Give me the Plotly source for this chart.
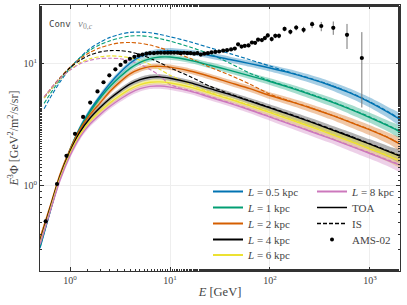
import plotly.graph_objects as go

# ---------------- data ----------------
E_toa = [0.5, 0.63, 0.79, 1.0, 1.26, 1.58, 2.0, 2.51, 3.16, 3.98, 5.01, 6.31, 7.94, 10,
         15.8, 25.1, 39.8, 63.1, 100, 158, 251, 398, 631, 1000, 1585, 2000]
toa_L05 = [0.31, 0.61, 1.16, 1.95, 2.98, 4.1, 5.4, 6.85, 8.4, 10.0, 11.35, 12.1, 12.55, 12.7,
           12.3, 11.6, 10.75, 9.95, 9.15, 8.35, 7.5, 6.62, 5.72, 4.8, 3.9, 3.48]
toa_L1 = [0.32, 0.62, 1.17, 1.96, 2.95, 4.0, 5.2, 6.45, 7.75, 9.1, 10.2, 10.9, 11.25, 11.25,
          10.6, 9.65, 8.75, 7.9, 7.1, 6.33, 5.58, 4.88, 4.22, 3.6, 3.03, 2.75]
toa_L2 = [0.37, 0.67, 1.22, 1.97, 2.9, 3.8, 4.75, 5.9, 7.05, 8.2, 8.95, 9.4, 9.45, 9.3,
          8.65, 7.8, 6.95, 6.2, 5.45, 4.88, 4.33, 3.8, 3.3, 2.85, 2.42, 2.18]
toa_L4 = [0.35, 0.65, 1.18, 1.9, 2.75, 3.55, 4.35, 5.15, 5.95, 6.75, 7.35, 7.7, 7.75, 7.55,
          6.95, 6.2, 5.55, 4.9, 4.32, 3.8, 3.33, 2.9, 2.52, 2.18, 1.88, 1.74]
toa_L6 = [0.34, 0.63, 1.15, 1.84, 2.62, 3.35, 4.05, 4.75, 5.45, 6.15, 6.7, 7.0, 7.05, 6.9,
          6.4, 5.7, 5.08, 4.48, 3.95, 3.47, 3.04, 2.65, 2.3, 1.99, 1.72, 1.59]
toa_L8 = [0.33, 0.61, 1.1, 1.76, 2.5, 3.18, 3.82, 4.45, 5.08, 5.7, 6.2, 6.48, 6.52, 6.38,
          5.92, 5.28, 4.7, 4.15, 3.63, 3.18, 2.78, 2.43, 2.11, 1.83, 1.58, 1.47]
band_rel = [0.05, 0.05, 0.05, 0.05, 0.05, 0.05, 0.05, 0.05, 0.05, 0.05, 0.05, 0.05, 0.05, 0.05,
            0.05, 0.055, 0.055, 0.06, 0.065, 0.07, 0.075, 0.08, 0.09, 0.095, 0.105, 0.11]

E_is = [0.55, 0.63, 0.79, 1.0, 1.26, 1.58, 2.0, 2.51, 3.16, 3.98, 5.01, 6.31, 7.94, 10,
        15.8, 25.1, 39.8, 63.1, 100, 158, 251, 398, 631, 1000, 1585, 2000]
is_L05 = [4.25, 5.2, 7.0, 9.1, 11.2, 13.2, 14.9, 16.3, 17.3, 17.9, 18.0, 17.8, 17.2, 16.5,
          15.0, 13.4, 12.0, 10.7, 9.5, 8.45, 7.55, 6.67, 5.77, 4.85, 3.94, 3.52]
is_L1 = [4.7, 5.6, 7.3, 9.2, 11.1, 12.8, 14.2, 15.3, 16.1, 16.7, 16.8, 16.5, 15.9, 15.2,
         13.6, 11.9, 10.0, 8.3, 7.2, 6.4, 5.64, 4.93, 4.26, 3.64, 3.06, 2.78]
is_L2 = [5.3, 6.1, 7.6, 9.3, 10.9, 12.3, 13.4, 14.2, 14.7, 14.8, 14.6, 14.1, 13.4, 12.6,
         11.0, 9.3, 8.0, 6.75, 5.6, 4.92, 4.36, 3.82, 3.32, 2.87, 2.44, 2.2]
is_L4 = [5.2, 6.0, 7.5, 9.2, 10.6, 11.7, 12.4, 12.7, 12.7, 12.4, 11.8, 11.0, 10.1, 9.2,
         7.8, 6.5, 5.62, 4.95, 4.36, 3.84, 3.36, 2.93, 2.55, 2.2, 1.9, 1.76]
is_L6 = [5.2, 6.0, 7.4, 8.9, 10.1, 10.9, 11.3, 11.5, 11.4, 11.1, 10.6, 9.8, 8.9, 8.0,
         6.75, 5.78, 5.13, 4.53, 3.99, 3.5, 3.07, 2.68, 2.32, 2.01, 1.74, 1.6]
is_L8 = [5.3, 6.1, 7.5, 8.8, 9.9, 10.6, 10.95, 11.0, 10.9, 10.5, 9.8, 8.9, 7.9, 6.7,
         6.0, 5.35, 4.75, 4.19, 3.67, 3.21, 2.81, 2.45, 2.13, 1.85, 1.6, 1.48]

ams_E = [0.57, 0.74, 0.92, 1.12, 1.35, 1.59, 1.88, 2.16, 2.47, 2.84, 3.2, 3.57, 3.97, 4.4, 4.85, 5.3, 5.8,
         6.3, 6.9, 7.5, 8.1, 8.8, 9.5, 10.2, 11.0, 11.9, 12.8, 13.8, 14.9, 16.1, 17.4, 18.8, 20.3, 22.0,
         23.9, 26.0, 28.4, 31.0, 34.0, 37.2, 40.8, 44.5, 48.0, 52, 56, 61, 66, 71, 76, 83, 89, 95, 104,
         113, 123, 140, 160, 183, 217, 264, 326, 430, 590, 830]
ams_flux = [0.51, 1.03, 1.75, 2.65, 3.64, 4.77, 5.89, 7.0, 7.98, 8.93, 9.7, 10.3, 10.9, 11.3, 11.6, 11.8, 12.0,
            12.1, 12.1, 12.2, 12.2, 12.2, 12.2, 12.2, 12.2, 12.2, 12.1, 12.2, 12.1, 12.1, 12.0, 12.1, 11.8, 12.0,
            12.1, 12.3, 12.4, 12.5, 12.7, 12.8, 13.0, 13.2, 14.3, 13.7, 13.9, 14.0, 14.8, 14.7, 15.6, 15.5, 16.1, 16.9, 15.8,
            16.8, 16.8, 19.1, 18.1, 19.6, 18.8, 20.9, 20.2, 19.5, 17.1, 11.05]
ams_err_up = [0.02, 0.03, 0.04, 0.05, 0.06, 0.07, 0.08, 0.09, 0.1, 0.1, 0.11, 0.11, 0.12, 0.12, 0.12, 0.13, 0.13,
              0.13, 0.13, 0.14, 0.14, 0.14, 0.15, 0.15, 0.15, 0.16, 0.16, 0.17, 0.17, 0.18, 0.19, 0.2, 0.2, 0.21,
              0.22, 0.23, 0.24, 0.26, 0.28, 0.3, 0.32, 0.34, 0.37, 0.4, 0.42, 0.45, 0.5, 0.52, 0.55, 0.6, 0.65, 0.7, 0.72,
              0.75, 0.8, 0.85, 0.9, 1.0, 1.1, 1.1, 1.6, 2.5, 3.9, 6.95]
ams_err_dn = [0.02, 0.03, 0.04, 0.05, 0.06, 0.07, 0.08, 0.09, 0.1, 0.1, 0.11, 0.11, 0.12, 0.12, 0.12, 0.13, 0.13,
              0.13, 0.13, 0.14, 0.14, 0.14, 0.15, 0.15, 0.15, 0.16, 0.16, 0.17, 0.17, 0.18, 0.19, 0.2, 0.2, 0.21,
              0.22, 0.23, 0.24, 0.26, 0.28, 0.3, 0.32, 0.34, 0.37, 0.4, 0.42, 0.45, 0.5, 0.52, 0.55, 0.6, 0.65, 0.7, 0.72,
              0.75, 0.8, 0.85, 0.9, 1.0, 1.1, 1.5, 1.9, 2.4, 4.0, 6.7]

L_labels = ["0.5", "1", "2", "4", "6", "8"]
x_tickvals = [1, 10, 100, 1000]
x_ticktext = ["10<sup>0</sup>", "10<sup>1</sup>", "10<sup>2</sup>", "10<sup>3</sup>"]
y_tickvals = [1, 10]
y_ticktext = ["10<sup>0</sup>", "10<sup>1</sup>"]

# ---------------- style ----------------
W, H = 407, 305
ML, MR, MT, MB = 40, 7, 5, 34
PW, PH = W - ML - MR, H - MT - MB

colors = ["#0173b2", "#029e73", "#d55e00", "#000000", "#ece133", "#cc78bc"]
band_colors = ["rgba(1,115,178,0.35)", "rgba(2,158,115,0.35)", "rgba(213,94,0,0.35)",
               "rgba(0,0,0,0.3)", "rgba(236,225,51,0.45)", "rgba(204,120,188,0.35)"]
SERIF = "Liberation Serif, DejaVu Serif, serif"
GRAY = "#444444"
SMOOTH = 0.8

toa_all = [toa_L05, toa_L1, toa_L2, toa_L4, toa_L6, toa_L8]
is_all = [is_L05, is_L1, is_L2, is_L4, is_L6, is_L8]

fig = go.Figure()

# bands
for vals, bc in zip(toa_all, band_colors):
    up = [v * (1 + r) for v, r in zip(vals, band_rel)]
    lo = [v * (1 - r) for v, r in zip(vals, band_rel)]
    fig.add_trace(go.Scatter(x=E_toa + E_toa[::-1], y=up + lo[::-1], fill="toself",
                             fillcolor=bc, line=dict(width=0, shape="spline", smoothing=SMOOTH),
                             mode="lines", hoverinfo="skip", showlegend=False))

# IS dashed
for vals, c in zip(is_all, colors):
    fig.add_trace(go.Scatter(x=E_is, y=vals, mode="lines",
                             line=dict(color=c, width=1.1, dash="4px,2px", shape="spline", smoothing=SMOOTH),
                             showlegend=False, hoverinfo="skip"))

# TOA solid
for vals, c in zip(toa_all, colors):
    fig.add_trace(go.Scatter(x=E_toa, y=vals, mode="lines",
                             line=dict(color=c, width=1.4, shape="spline", smoothing=SMOOTH),
                             showlegend=False, hoverinfo="skip"))

# AMS-02 data
fig.add_trace(go.Scatter(x=ams_E, y=ams_flux, mode="markers",
                         marker=dict(color="black", size=4.2),
                         error_y=dict(type="data", symmetric=False, array=ams_err_up,
                                      arrayminus=ams_err_dn, color="#777777", thickness=1, width=0),
                         showlegend=False))

# legend entries: each in its own legend box, placed as in the reference
legend_items = []
for lab, c in zip(L_labels[:5], colors[:5]):
    legend_items.append((f"<i>L</i> = {lab} kpc", dict(mode="lines", line=dict(color=c, width=2))))
legend_items.append(("<i>L</i> = 8 kpc", dict(mode="lines", line=dict(color=colors[5], width=2))))
legend_items.append(("TOA", dict(mode="lines", line=dict(color="black", width=1.5))))
legend_items.append(("IS", dict(mode="lines", line=dict(color="black", width=1.5, dash="4px,2px"))))
legend_items.append(("AMS-02", dict(mode="markers", marker=dict(color="black", size=4))))

col_x = [208, 312]
row_y = [191.5, 207.5, 223.5, 239.5, 255]
positions = [(0, r) for r in range(5)] + [(1, r) for r in range(4)]

layout_legends = {}
for i, ((name, kw), (ci, ri)) in enumerate(zip(legend_items, positions)):
    key = "legend" if i == 0 else f"legend{i + 1}"
    fig.add_trace(go.Scatter(x=[None], y=[None], name=name, legend=key, **kw))
    layout_legends[key] = dict(
        x=(col_x[ci] - ML) / PW, y=1 - (row_y[ri] - MT) / PH, xanchor="left", yanchor="middle",
        bgcolor="rgba(0,0,0,0)", borderwidth=0,
        font=dict(family=SERIF, size=11, color=GRAY), itemwidth=30,
    )

axis_common = dict(
    type="log", showline=True, linecolor="#333333", linewidth=1, mirror="allticks",
    ticks="inside", ticklen=4, tickcolor="#333333", automargin=False,
    showgrid=True, gridcolor="#eeeeee", gridwidth=1, zeroline=False,
    tickfont=dict(family=SERIF, size=10, color=GRAY),
    minor=dict(ticks="inside", ticklen=2, tickcolor="#333333", showgrid=False),
)

fig.update_layout(
    width=W, height=H,
    margin=dict(l=ML, r=MR, t=MT, b=MB, autoexpand=False),
    paper_bgcolor="white", plot_bgcolor="white",
    font=dict(family=SERIF, color=GRAY),
    xaxis=dict(axis_common, range=[-0.30103, 3.30103], tickvals=x_tickvals, ticktext=x_ticktext,
               title=dict(text="<i>E</i> [GeV]", font=dict(family=SERIF, size=12.5, color=GRAY), standoff=2)),
    yaxis=dict(axis_common, range=[-0.69897, 1.47712], tickvals=y_tickvals, ticktext=y_ticktext,
               title=dict(text="<i>E</i><sup>3</sup>Φ [GeV<sup>2</sup>/m<sup>2</sup>/s/sr]",
                          font=dict(family=SERIF, size=12, color=GRAY), standoff=2)),
    annotations=[
        dict(text="Conv", xref="paper", yref="paper", x=(47 - ML) / PW, y=1 - (24 - MT) / PH,
             xanchor="left", yanchor="middle",
             showarrow=False, font=dict(family="DejaVu Sans Mono", size=9, color=GRAY)),
        dict(text="<i>v</i><sub>0,<i>c</i></sub>", xref="paper", yref="paper", x=(76 - ML) / PW,
             y=1 - (24 - MT) / PH, xanchor="left", yanchor="middle", showarrow=False,
             font=dict(family=SERIF, size=11, color="#888888")),
    ],
    **layout_legends,
)

fig.write_html("out.html", config={"displayModeBar": False},
               post_script="document.body.style.margin='0';document.body.style.padding='0';")
